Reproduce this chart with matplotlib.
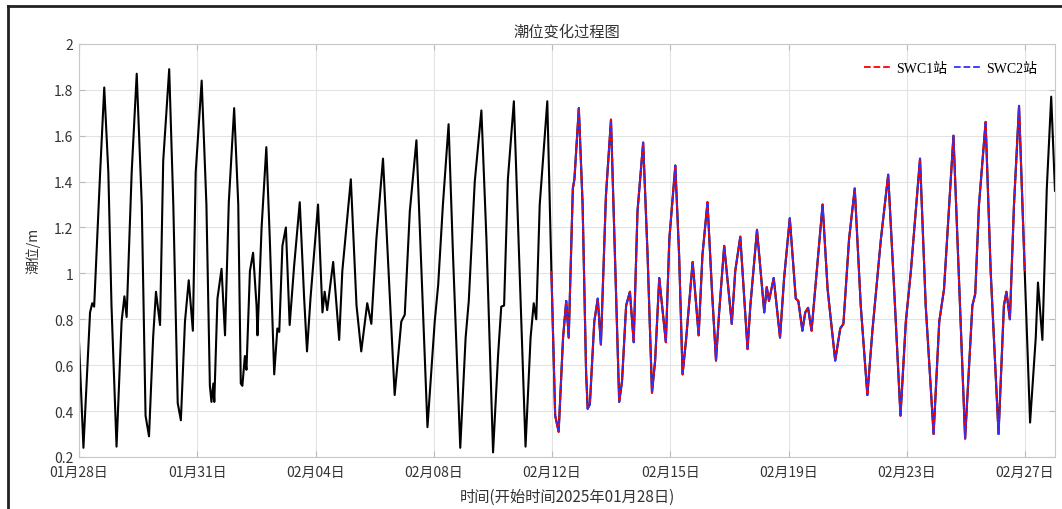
import numpy as np
import matplotlib
matplotlib.use("Agg")
import matplotlib.pyplot as plt
from matplotlib.lines import Line2D

plt.rcParams['font.family'] = ['Noto Sans CJK SC', 'DejaVu Sans']

# days since 2025-01-28 00:00, tide level (m)
day = [0.00, 0.14, 0.35, 0.42, 0.48, 0.67, 0.80, 0.93, 1.03, 1.19,
       1.35, 1.44, 1.51, 1.67, 1.83, 1.99, 2.11, 2.22, 2.35, 2.44,
       2.57, 2.67, 2.86, 2.99, 3.13, 3.23, 3.36, 3.48, 3.61, 3.70,
       3.89, 4.04, 4.15, 4.20, 4.26, 4.29, 4.39, 4.52, 4.63, 4.75,
       4.92, 5.05, 5.13, 5.18, 5.26, 5.31, 5.42, 5.52, 5.63, 5.66,
       5.79, 5.94, 6.05, 6.19, 6.29, 6.35, 6.45, 6.56, 6.68, 6.82,
       7.00, 7.14, 7.23, 7.34, 7.58, 7.72, 7.79, 7.87, 8.06, 8.25,
       8.35, 8.62, 8.80, 8.95, 9.14, 9.27, 9.43, 9.64, 10.01, 10.22,
       10.33, 10.49, 10.70, 10.86, 11.05, 11.28, 11.39, 11.54, 11.72, 11.86,
       12.09, 12.26, 12.36, 12.55, 12.76, 12.92, 13.13, 13.29, 13.39, 13.48,
       13.60, 13.79, 13.92, 14.16, 14.32, 14.42, 14.50, 14.61, 14.85, 14.98,
       15.10, 15.21, 15.35, 15.45, 15.53, 15.66, 15.71, 15.85, 15.97, 16.08,
       16.13, 16.20, 16.34, 16.45, 16.55, 16.71, 16.87, 16.98, 17.13, 17.22,
       17.35, 17.47, 17.59, 17.71, 17.89, 18.03, 18.17, 18.27, 18.40, 18.61,
       18.72, 18.91, 19.03, 19.14, 19.25, 19.46, 19.65, 19.77, 19.93, 20.07,
       20.20, 20.30, 20.46, 20.70, 20.81, 20.97, 21.20, 21.29, 21.50, 21.73,
       21.81, 21.88, 22.03, 22.23, 22.36, 22.54, 22.73, 22.81, 22.94, 23.03,
       23.12, 23.23, 23.58, 23.74, 23.98, 24.14, 24.24, 24.42, 24.60, 24.79,
       25.00, 25.16, 25.43, 25.66, 25.85, 26.05, 26.22, 26.38, 26.67, 26.85,
       27.10, 27.28, 27.43, 27.73, 28.10, 28.33, 28.42, 28.54, 28.75, 28.91,
       29.16, 29.33, 29.41, 29.52, 29.65, 29.81, 29.99, 30.16, 30.34, 30.41,
       30.55, 30.69, 30.83, 30.95]
level = [0.70, 0.24, 0.83, 0.87, 0.855, 1.44, 1.81, 1.44, 0.86, 0.245,
         0.79, 0.90, 0.81, 1.44, 1.87, 1.30, 0.38, 0.29, 0.72, 0.92,
         0.775, 1.49, 1.89, 1.30, 0.435, 0.36, 0.79, 0.97, 0.75, 1.44,
         1.84, 1.30, 0.51, 0.44, 0.52, 0.44, 0.89, 1.02, 0.73, 1.31,
         1.72, 1.30, 0.52, 0.51, 0.64, 0.58, 1.01, 1.09, 0.86, 0.73,
         1.20, 1.55, 1.15, 0.56, 0.76, 0.745, 1.12, 1.20, 0.775, 1.03,
         1.31, 0.89, 0.66, 0.89, 1.30, 0.83, 0.92, 0.84, 1.05, 0.71,
         1.01, 1.41, 0.86, 0.66, 0.87, 0.78, 1.15, 1.50, 0.47, 0.79,
         0.82, 1.27, 1.58, 1.01, 0.33, 0.79, 0.95, 1.30, 1.65, 1.08,
         0.24, 0.72, 0.88, 1.40, 1.71, 1.15, 0.22, 0.645, 0.855, 0.86,
         1.41, 1.75, 1.22, 0.245, 0.72, 0.87, 0.80, 1.30, 1.75, 1.01,
         0.38, 0.31, 0.72, 0.88, 0.72, 1.37, 1.41, 1.72, 1.30, 0.57,
         0.41, 0.43, 0.79, 0.89, 0.69, 1.34, 1.67, 1.15, 0.44, 0.53,
         0.86, 0.92, 0.70, 1.27, 1.57, 1.08, 0.48, 0.62, 0.98, 0.70,
         1.15, 1.47, 1.08, 0.56, 0.71, 1.05, 0.73, 1.08, 1.31, 0.93,
         0.62, 0.83, 1.12, 0.78, 1.01, 1.16, 0.67, 0.86, 1.19, 0.83,
         0.94, 0.88, 0.98, 0.72, 0.98, 1.24, 0.89, 0.88, 0.75, 0.83,
         0.85, 0.75, 1.30, 0.93, 0.62, 0.76, 0.78, 1.15, 1.37, 0.86,
         0.47, 0.75, 1.15, 1.43, 0.93, 0.38, 0.79, 1.01, 1.50, 0.86,
         0.30, 0.79, 0.93, 1.60, 0.28, 0.86, 0.91, 1.30, 1.66, 1.01,
         0.30, 0.86, 0.92, 0.80, 1.30, 1.73, 1.01, 0.35, 0.72, 0.96,
         0.71, 1.37, 1.77, 1.36]

# period covered by the two stations (days)
swc_start, swc_end = 14.98, 29.99

tick_days = [0, 3.75, 7.5, 11.25, 15, 18.75, 22.5, 26.25, 30]
tick_labels = ['01月28日', '01月31日', '02月04日', '02月08日', '02月12日',
               '02月15日', '02月19日', '02月23日', '02月27日']

day = np.array(day)
level = np.array(level)
m = (day >= swc_start) & (day <= swc_end)
swc1_level = level[m]
swc2_level = level[m]

fig = plt.figure(figsize=(10.62, 5.10), dpi=100)
ax = fig.add_axes([0.0744, 0.102, 0.919, 0.810])

ax.plot(day, level, color='black', lw=1.5, zorder=2)
ax.plot(day[m], swc1_level, color='red', lw=1.5, linestyle=(0, (1.6, 1.6)), zorder=3)
ax.plot(day[m], swc2_level, color='#3030ff', lw=1.5, linestyle=(1.6, (1.6, 1.6)), zorder=4)

ax.set_xlim(0, 30.95)
ax.set_ylim(0.2, 2.0)
ax.set_xticks(tick_days)
ax.set_xticklabels(tick_labels)
ax.set_yticks(np.arange(0.2, 2.01, 0.2))
ax.set_yticklabels(['0.2', '0.4', '0.6', '0.8', '1', '1.2', '1.4', '1.6', '1.8', '2'])
ax.tick_params(direction='in', length=4, top=True, right=True, labelsize=10,
               colors='#bbbbbb', labelcolor='#333333')
ax.tick_params(axis='x', pad=6)
ax.tick_params(axis='y', pad=4)
ax.grid(True, color='#e3e3e3', lw=0.8)
for s in ax.spines.values():
    s.set_color('#c8c8c8')

ax.set_title('潮位变化过程图', fontsize=11, color='#333333', pad=6)
ax.set_xlabel('时间(开始时间2025年01月28日)', fontsize=11, color='#333333', labelpad=6)
ax.set_ylabel('潮位/m', fontsize=10, color='#333333', labelpad=10)

handles = [Line2D([], [], color='red', lw=1.3, linestyle='--'),
           Line2D([], [], color='#3030ff', lw=1.3, linestyle='--')]
ax.legend(handles, ['SWC1站', 'SWC2站'], loc='upper right', ncol=2, frameon=False,
          handlelength=2.0, handletextpad=0.3, columnspacing=0.5,
          borderaxespad=0.9, prop={'family': ['Liberation Serif', 'Noto Sans CJK SC'], 'size': 10})

# figure border (top and left edges visible)
fig.add_artist(Line2D([8/1062, 1.0], [1-7/510, 1-7/510], color='#222222', lw=2))
fig.add_artist(Line2D([8/1062, 8/1062], [0.0, 1-7/510], color='#222222', lw=2))

fig.savefig('out.png', dpi=100)
